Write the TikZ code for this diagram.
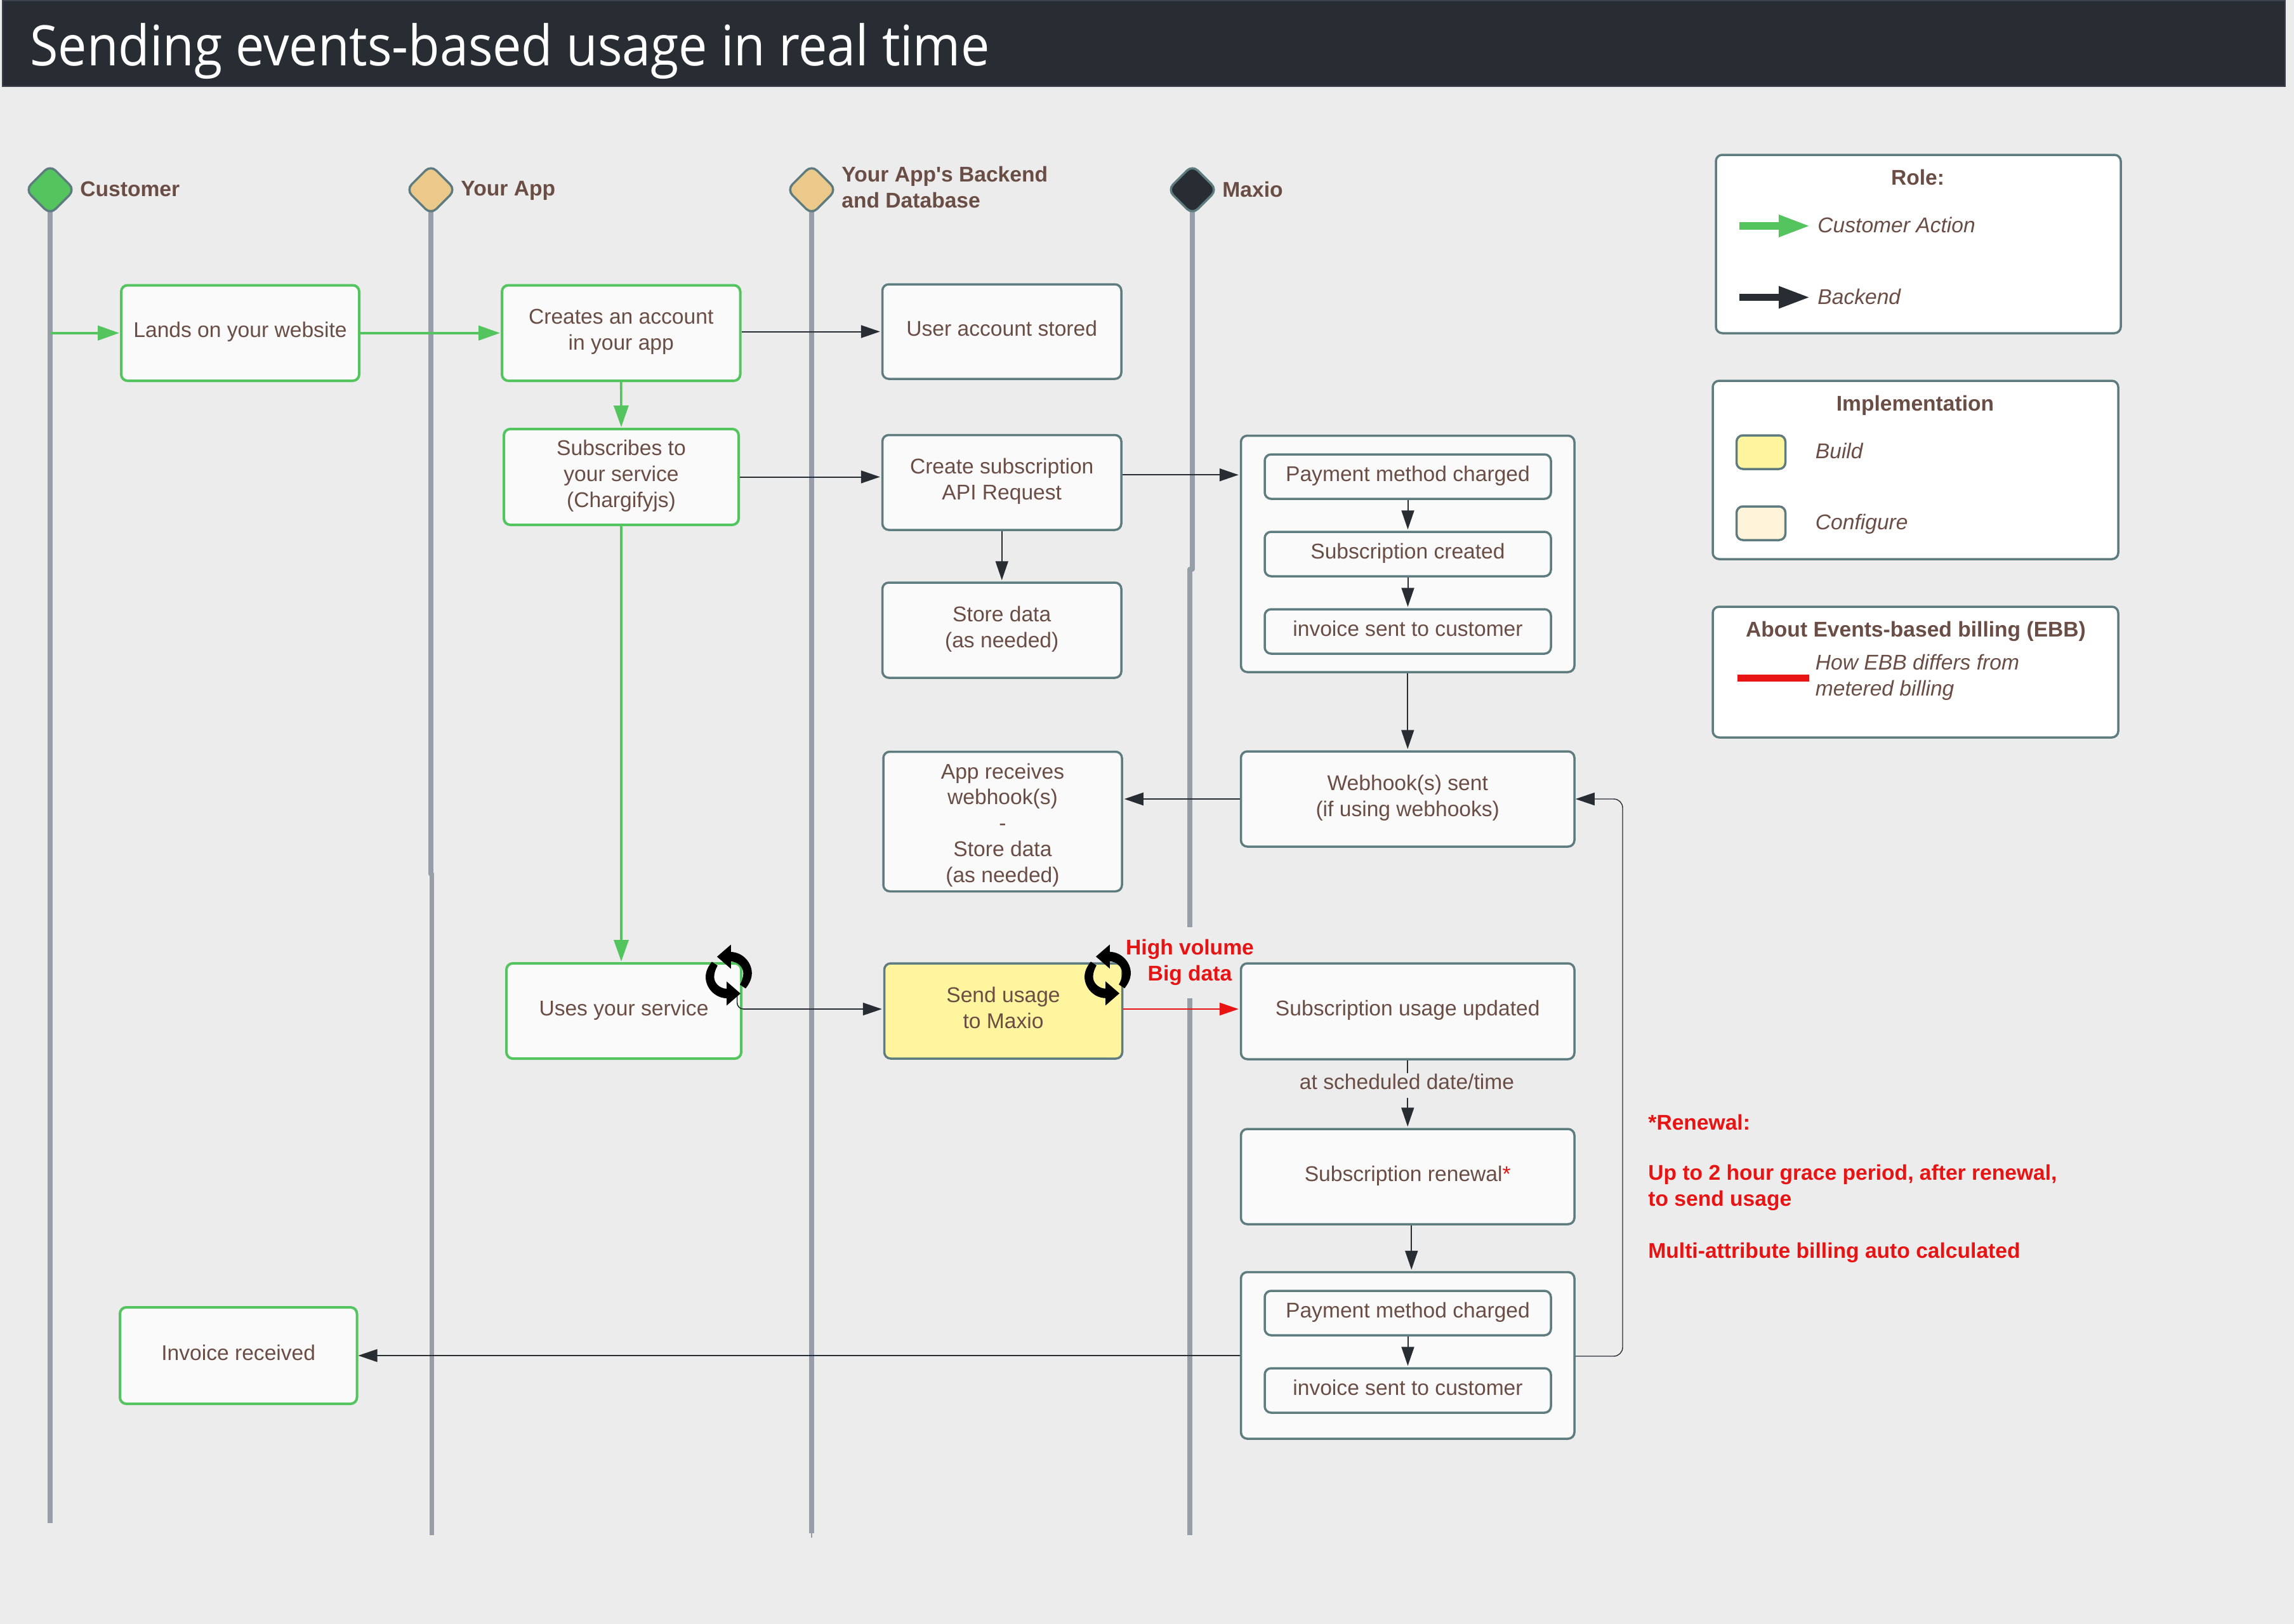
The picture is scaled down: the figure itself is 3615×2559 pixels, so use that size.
\documentclass[tikz,border=0pt]{standalone}
\usepackage{fontspec}
\setmainfont[Ligatures=TeXOff]{Liberation Sans}
\newfontfamily\titlefont[FakeStretch=0.918]{Open Sans}
\usetikzlibrary{arrows.meta,shapes.geometric,calc}
\definecolor{pagebg}{HTML}{ECECEC}
\definecolor{boxfill}{HTML}{FAFAFA}
\definecolor{roleGreen}{HTML}{54C45E}
\definecolor{steel}{HTML}{5E7C7F}
\definecolor{ink}{HTML}{6A4D45}
\definecolor{lifegrey}{HTML}{979EA8}
\definecolor{darkband}{HTML}{282C33}
\definecolor{bandedge}{HTML}{3B424D}
\definecolor{alert}{HTML}{E81313}
\definecolor{buildY}{HTML}{FFF59E}
\definecolor{tan}{HTML}{EBC98A}
\definecolor{configY}{HTML}{FFF3D9}
\newcommand{\bodyfont}{\fontsize{16.8}{20.4}\selectfont}
\newcommand{\boxnode}[7]{\node[#6,minimum width={(#4-#2)*0.5pt},minimum height={(#5-#3)*0.5pt}] (#1) at ({(#2+#4)/2},{(#3+#5)/2}) {#7};}
\tikzset{
  basebox/.style={draw,fill=boxfill,rounded corners=5pt,inner sep=0pt,align=center,text=ink,font=\bodyfont,
    execute at begin node={\rule{0pt}{12.5pt}},execute at end node={\rule[-5.3pt]{0pt}{0pt}}},
  sbox/.style={basebox,draw=steel,line width=1.75pt},
  gbox/.style={basebox,draw=roleGreen,line width=2pt},
  ybox/.style={sbox,fill=buildY},
  legbox/.style={draw=steel,line width=1.75pt,fill=white,rounded corners=5pt},
  swatch/.style={draw=steel,line width=1.75pt,rounded corners=5pt},
  lane/.style={draw=steel,line width=1.75pt,shape=diamond,aspect=1,rounded corners=6pt,minimum size=39.5pt,inner sep=0pt},
  life/.style={draw=lifegrey,line width=3.8pt,line join=round},
  garr/.style={draw=roleGreen,line width=1.8pt,-{Triangle[length=17pt,width=11.5pt]},shorten >=0.5pt},
  darr/.style={draw=darkband,line width=1pt,-{Triangle[length=15pt,width=10pt]},shorten >=1pt},
  darrthin/.style={draw=darkband,line width=0.7pt,-{Triangle[length=15pt,width=10pt]},shorten >=0pt},
  rarr/.style={draw=alert,line width=1pt,-{Triangle[length=15pt,width=10pt]},shorten >=1pt},
  lanetxt/.style={anchor=west,align=left,text=ink,font=\bodyfont\bfseries,inner sep=0pt},
  legtitle/.style={text=ink,font=\bodyfont\bfseries,inner sep=0pt},
  legtxt/.style={anchor=west,align=left,text=ink,font=\bodyfont\itshape,inner sep=0pt},
  alerttxt/.style={anchor=west,align=left,text=alert,font=\bodyfont\bfseries,inner sep=0pt},
  syncicon/.pic={
    \fill[black] (3.4,-48)--(-18.5,-29)--(3.4,-10)--(3.4,-21.5) .. controls (15,-21) and (23,-12) .. (23,-3) .. controls (23,3) and (21,9) .. (17.6,15) -- (26.6,21) .. controls (33,13) and (36.4,5) .. (36.4,-3) .. controls (36.4,-20) and (22,-36) .. (3.4,-36.5) -- cycle;
    \begin{scope}[rotate=180]
    \fill[black] (3.4,-48)--(-18.5,-29)--(3.4,-10)--(3.4,-21.5) .. controls (15,-21) and (23,-12) .. (23,-3) .. controls (23,3) and (21,9) .. (17.6,15) -- (26.6,21) .. controls (33,13) and (36.4,5) .. (36.4,-3) .. controls (36.4,-20) and (22,-36) .. (3.4,-36.5) -- cycle;
    \end{scope}
  }
}
\begin{document}
\begin{tikzpicture}[x=0.5pt,y=-0.5pt]
\useasboundingbox (0,0) rectangle (3615,2559);
\fill[pagebg] (0,0) rectangle (3615,2559);
% title band
\filldraw[fill=darkband,draw=bandedge,line width=0.8pt] (4,1) rectangle (3601,136);
\node[anchor=base west,text=white,inner sep=0pt,font=\titlefont\fontsize{44}{50}\selectfont] (title) at (47,103) {Sending events-based usage in real time};
% lanes
\coordinate (cCust) at (79,299);
\coordinate (cApp) at (679,299);
\coordinate (cBack) at (1279,299);
\coordinate (cMax) at (1879,299);
\coordinate (eCust) at (79,2400);
\coordinate (sApp) at (679,1377);
\coordinate (sApp2) at (680.5,1377);
\coordinate (eApp) at (680.5,2419);
\coordinate (eBack) at (1279,2416);
\coordinate (eBack2) at (1279,2423);
\coordinate (sMax) at (1879,897);
\coordinate (sMax2) at (1875,897);
\coordinate (eMax) at (1875,2419);
\draw[life] (cCust) -- (eCust);
\draw[life] (cApp) -- (sApp) -- (sApp2) -- (eApp);
\draw[life] (cBack) -- (eBack);
\draw[draw=lifegrey,line width=0.8pt] (eBack) -- (eBack2);
\draw[life] (cMax) -- (sMax) -- (sMax2) -- (eMax);
\node[lane,fill=roleGreen] (dCust) at (cCust) {};
\node[lane,fill=tan] (dApp) at (cApp) {};
\node[lane,fill=tan] (dBack) at (cBack) {};
\node[lane,fill=darkband] (dMax) at (cMax) {};
\node[lanetxt] (tCust) at (126,298) {Customer};
\node[lanetxt] (tApp) at (726,300) {Your App};
\node[lanetxt] (tBack) at (1326,295) {Your App's Backend\\and Database};
\node[lanetxt] (tMax) at (1926,298) {Maxio};
% red label masks the lifeline
\node[fill=pagebg,text=alert,font=\bodyfont\bfseries,align=center,inner sep=0pt,minimum height=56pt] (hv) at (1875,1516.5) {High volume\\Big data};
% boxes
\boxnode{lands}{191}{449.5}{566}{600}{gbox}{Lands on your website}
\boxnode{creates}{791}{449.5}{1166.5}{600}{gbox}{Creates an account\\in your app}
\boxnode{subs}{794}{676}{1164}{827}{gbox}{Subscribes to\\your service\\(Chargifyjs)}
\boxnode{uses}{798}{1518}{1168}{1668}{gbox}{Uses your service}
\boxnode{invoice}{189}{2060}{562.5}{2212}{gbox}{Invoice received}
\boxnode{stored}{1390.5}{448}{1767}{597}{sbox}{User account stored}
\boxnode{create}{1390.5}{685.5}{1767}{835}{sbox}{Create subscription\\API Request}
\boxnode{store}{1390.5}{918}{1767}{1068}{sbox}{Store data\\(as needed)}
\boxnode{appr}{1392}{1184.5}{1768}{1404.5}{sbox}{\rule{0pt}{19.5pt}App receives\\webhook(s)\\-\\Store data\\(as needed)}
\boxnode{send}{1393.5}{1518}{1768.5}{1668}{ybox}{Send usage\\to Maxio}
\boxnode{big}{1955.5}{686.5}{2481}{1059}{sbox}{}
\boxnode{pay}{1993}{716}{2444}{786}{sbox}{Payment method charged}
\boxnode{created}{1993}{838}{2444}{908}{sbox}{Subscription created}
\boxnode{inv}{1993}{960}{2444}{1030}{sbox}{invoice sent to customer}
\boxnode{hook}{1955.5}{1184}{2481}{1334}{sbox}{Webhook(s) sent\\(if using webhooks)}
\boxnode{updated}{1955.5}{1518}{2481}{1669}{sbox}{Subscription usage updated}
\boxnode{renewal}{1955.5}{1779}{2481}{1929}{sbox}{Subscription renewal{\color{alert}*}}
\boxnode{bigb}{1955.5}{2004.5}{2481}{2267}{sbox}{}
\boxnode{payb}{1993}{2034}{2444}{2104}{sbox}{Payment method charged}
\boxnode{invb}{1993}{2156}{2444}{2226}{sbox}{invoice sent to customer}
% connectors
\coordinate (tapCust) at (dCust |- lands.west);
\draw[garr] (tapCust) -- (lands.west);
\draw[garr] (lands.east) -- (creates.west);
\draw[garr] (creates.south) -- (subs.north);
\draw[garr] (subs.south) -- (subs.south |- uses.north);
\draw[darr] (creates.east |- stored.west) -- (stored.west);
\draw[darr] (subs.east) -- (create.west |- subs.east);
\draw[darr] ([yshift=6pt]create.east) -- (big.west |- {$(create.east)+(0,-12)$});
\draw[darr] (create.south) -- (store.north);
\draw[darr] (pay.south) -- (created.north);
\draw[darr] (created.south) -- (inv.north);
\draw[darr] (big.south) -- (hook.north);
\draw[darr] (hook.west) -- (appr.east |- hook.west);
\coordinate (usesOut) at (1161.6,1565);
\coordinate (usesBend) at (1161.6,1590);
\draw[darr,line width=0.8pt,rounded corners=5pt] (usesOut) -- (usesBend) -- (send.west |- usesBend);
\draw[rarr] (send.east |- usesBend) -- (updated.west |- usesBend);
\draw[darr] (updated.south) -- (renewal.north);
\node[fill=pagebg,text=ink,font=\bodyfont,inner sep=0pt,minimum height=19.5pt] (sched) at (2217,1710.5) {at scheduled date/time\rule[-5.8pt]{0pt}{0pt}};
\draw[darr] ([xshift=3pt]renewal.south) -- ([xshift=3pt]bigb.north);
\draw[darr] (payb.south) -- (invb.north);
\draw[darrthin] (bigb.west |- invoice.east) -- (invoice.east);
\coordinate (loopA) at (2557,2137);
\coordinate (loopB) at (2557,1259);
\draw[darrthin,rounded corners=7pt] (bigb.east |- loopA) -- (loopA) -- (loopB) -- (hook.east);
% sync icons
\pic at (1148.4,1536.5) {syncicon};
\pic at (1745.5,1536.3) {syncicon};
% renewal note
\node[alerttxt] (n1) at (2597,1768) {*Renewal:};
\node[alerttxt] (n2) at (2597,1871.5) {Up to 2 hour grace period, after renewal,\\to send usage};
\node[alerttxt] (n3) at (2597,1974) {Multi-attribute billing auto calculated};
% legend: role
\node[legbox,minimum width=319pt,minimum height=140.5pt] (legRole) at (3023,384.5) {};
\node[legtitle] (lr) at (3022,279) {Role:};
\coordinate (ga) at (2741,356);
\coordinate (gb) at (2853,356);
\coordinate (ba) at (2741,468.5);
\coordinate (bb) at (2853,468.5);
\draw[draw=roleGreen,line width=5.75pt,-{Triangle[length=25pt,width=16pt]}] (ga) -- (gb);
\draw[draw=darkband,line width=5.75pt,-{Triangle[length=25pt,width=16pt]}] (ba) -- (bb);
\node[legtxt] (lg) at (2864,354) {Customer Action};
\node[legtxt] (lb) at (2864,467) {Backend};
% legend: implementation
\node[legbox,minimum width=319.5pt,minimum height=140.5pt] (legImpl) at (3018.5,740.5) {};
\node[legtitle] (li) at (3018,639) {Implementation};
\node[swatch,fill=buildY,minimum width=38.5pt,minimum height=26.5pt] (swB) at (2775,712.5) {};
\node[swatch,fill=configY,minimum width=38.5pt,minimum height=26.5pt] (swC) at (2775,824.5) {};
\node[legtxt] (lbu) at (2860.5,710) {Build};
\node[legtxt] (lco) at (2860.5,826) {Configure};
% legend: EBB
\node[legbox,minimum width=319.5pt,minimum height=103pt] (legEbb) at (3018.5,1059) {};
\node[legtitle] (le) at (3019,995) {About Events-based billing (EBB)};
\coordinate (ra) at (2738,1068);
\coordinate (rb) at (2851,1068);
\draw[draw=alert,line width=5.5pt] (ra) -- (rb);
\node[legtxt] (lh) at (2860.5,1067) {How EBB differs from\\metered billing};
\end{tikzpicture}
\end{document}
